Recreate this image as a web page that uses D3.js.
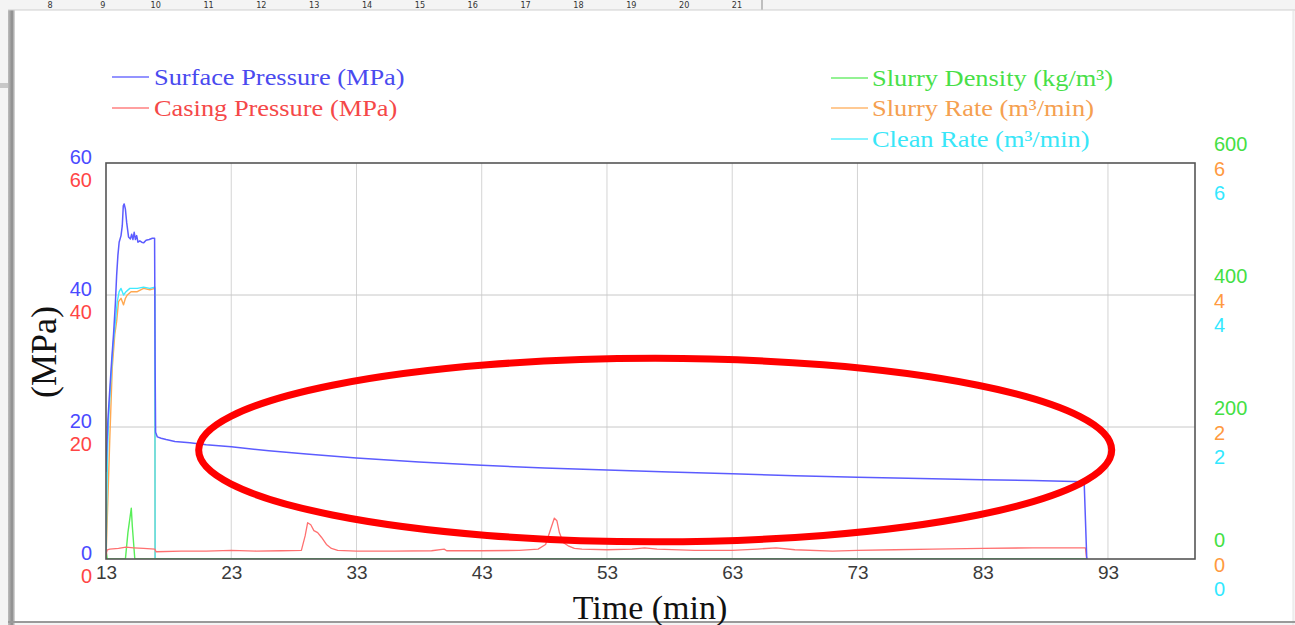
<!DOCTYPE html>
<html>
<head>
<meta charset="utf-8">
<script src="https://cdn.jsdelivr.net/npm/d3@7"></script>
<style>
  body { margin: 0; background: #f4f4f4; overflow: hidden; }
  svg { display: block; }
</style>
</head>
<body>
<div id="chart"></div>
<script>
// time axis (min)
const xTicks = [13, 23, 33, 43, 53, 63, 73, 83, 93];

// surface pressure (MPa)
const surfT = [13.0, 13.05, 13.15, 13.3, 13.45, 13.6, 13.75, 13.85, 13.95, 14.05, 14.2, 14.3, 14.38, 14.45, 14.55, 14.65, 14.8, 14.95, 15.05, 15.15, 15.25, 15.35, 15.45, 15.55, 15.7, 15.85, 16.0, 16.2, 16.45, 16.7, 16.88, 16.92, 16.96, 17.1, 17.4, 17.8, 18.5, 19.7, 21, 23, 26, 29, 33, 38, 43, 48, 53, 58, 63, 68, 73, 78, 83, 87, 91.1, 91.3, 91.32];
const surfP = [13.2, 16, 21, 25.6, 30, 34, 38.8, 43, 46, 48, 49, 50.5, 53.5, 53.8, 53, 51, 48.8, 48.5, 49.2, 48.4, 49.5, 48.4, 49.0, 48.0, 48.2, 48.0, 47.9, 48.3, 48.4, 48.6, 48.6, 30, 19.2, 18.5, 18.3, 18.1, 17.8, 17.6, 17.3, 17.0, 16.4, 15.9, 15.3, 14.7, 14.2, 13.8, 13.5, 13.2, 12.9, 12.6, 12.4, 12.2, 12.0, 11.9, 11.7, 0.5, 0];

// casing pressure (MPa)
const casT = [13.0, 13.05, 13.1, 13.3, 14.0, 14.6, 15.2, 16.0, 16.9, 17.0, 19, 21, 23, 25, 27, 28.6, 28.9, 29.1, 29.35, 29.6, 29.9, 30.2, 30.6, 31.0, 31.5, 33, 36, 39, 40.0, 40.2, 43, 46, 47.5, 48.1, 48.5, 48.8, 49.0, 49.2, 49.5, 49.9, 50.4, 51, 53, 55, 56, 57, 60, 63, 65, 66.5, 68, 71, 73, 76, 79, 83, 87, 91.2, 91.3];
const casP = [0.2, 1.0, 1.4, 1.5, 1.6, 1.8, 1.7, 1.6, 1.5, 1.1, 1.2, 1.2, 1.3, 1.2, 1.25, 1.3, 3.5, 5.5, 5.2, 4.3, 4.0, 3.3, 2.2, 1.6, 1.3, 1.2, 1.2, 1.25, 1.5, 1.25, 1.25, 1.3, 1.5, 2.2, 4.5, 6.2, 5.8, 4.0, 2.5, 2.0, 1.6, 1.5, 1.4, 1.5, 1.7, 1.5, 1.3, 1.3, 1.5, 1.7, 1.4, 1.2, 1.3, 1.4, 1.5, 1.6, 1.7, 1.7, 0];

// slurry density (kg/m3)
const densT = [13.0, 13.05, 13.1, 14.55, 14.75, 15.02, 15.1, 15.3, 15.4, 91.3];
const densV = [0, 8, 0, 0, 40, 77, 50, 0, 0, 0];

// slurry rate (m3/min)
const slurT = [13.0, 13.1, 13.3, 13.5, 13.7, 13.85, 14.0, 14.2, 14.4, 14.55, 14.7, 15.0, 15.5, 16.0, 16.5, 16.9, 16.92, 91.3];
const slurV = [0, 0.6, 1.8, 2.9, 3.4, 3.6, 3.9, 3.95, 3.85, 3.95, 4.0, 4.05, 4.05, 4.1, 4.08, 4.1, 0, 0];

// clean rate (m3/min)
const cleanT = [13.0, 13.06, 13.12, 13.2, 13.35, 13.55, 13.75, 13.9, 14.05, 14.2, 14.4, 14.6, 14.9, 15.5, 16.0, 16.5, 16.9, 16.92, 91.3];
const cleanV = [0, 0.8, 1.6, 2.1, 2.6, 3.2, 3.6, 3.9, 4.05, 4.1, 4.0, 4.05, 4.1, 4.1, 4.12, 4.1, 4.12, 0, 0];

const pTicks = [0, 20, 40, 60];
const densTicks = [0, 200, 400, 600];
const rateTicks = [0, 2, 4, 6];
const rulerNums = [8, 9, 10, 11, 12, 13, 14, 15, 16, 17, 18, 19, 20, 21];

const W = 1295, H = 625;
const pLeft = 106, pRight = 1195, pTop = 163, pBottom = 559;

const svg = d3.select("#chart").append("svg")
  .attr("width", W).attr("height", H);

// window background / ruler
svg.append("rect").attr("width", W).attr("height", H).attr("fill", "#f4f4f4");
const ruler = d3.scaleLinear().domain([8, 21]).range([50, 737]);
svg.append("g").selectAll("text")
  .data(rulerNums).enter().append("text")
  .attr("x", d => ruler(d)).attr("y", 8)
  .attr("text-anchor", "middle")
  .style("font", "9px 'DejaVu Sans Condensed', 'Liberation Sans', sans-serif")
  .style("fill", "#333")
  .text(d => d);
svg.append("line").attr("x1", 762).attr("x2", 762).attr("y1", 0).attr("y2", 10)
  .attr("stroke", "#888");
svg.append("rect").attr("x", 0).attr("y", 83).attr("width", 12).attr("height", 5).attr("fill", "#c8c8c8");

// shadow + panel
const defs = svg.append("defs");
const grad = defs.append("linearGradient").attr("id", "shadow");
grad.append("stop").attr("offset", "0%").attr("stop-color", "#bdbdbd");
grad.append("stop").attr("offset", "60%").attr("stop-color", "#8a8a8a");
grad.append("stop").attr("offset", "100%").attr("stop-color", "#e0e0e0");
svg.append("rect").attr("x", 8).attr("y", 10).attr("width", 7).attr("height", H - 10).attr("fill", "url(#shadow)");
svg.append("rect").attr("x", 15).attr("y", 10).attr("width", W - 17).attr("height", H - 14).attr("fill", "#fff");
svg.append("line").attr("x1", 8).attr("x2", W).attr("y1", 10).attr("y2", 10).attr("stroke", "#cfcfcf");
svg.append("line").attr("x1", W - 2).attr("x2", W - 2).attr("y1", 10).attr("y2", H).attr("stroke", "#e4e4e4");
svg.append("line").attr("x1", 8).attr("x2", W).attr("y1", H - 3).attr("y2", H - 3).attr("stroke", "#9a9a9a").attr("stroke-width", 2);

// scales
const x = d3.scaleLinear().domain([13, 99.95]).range([pLeft, pRight]);
const yP = d3.scaleLinear().domain([0, 60]).range([pBottom, pTop]);
const yD = d3.scaleLinear().domain([0, 600]).range([pBottom, pTop]);
const yR = d3.scaleLinear().domain([0, 6]).range([pBottom, pTop]);

// grid
svg.append("g").selectAll("line")
  .data(xTicks.slice(1)).enter().append("line")
  .attr("x1", d => x(d)).attr("x2", d => x(d))
  .attr("y1", pTop).attr("y2", pBottom)
  .attr("stroke", "#d4d4d4");
svg.append("g").selectAll("line")
  .data([20, 40]).enter().append("line")
  .attr("x1", pLeft).attr("x2", pRight)
  .attr("y1", d => yP(d)).attr("y2", d => yP(d))
  .attr("stroke", "#c8c8c8");

// x axis labels
const xAxis = svg.append("g")
  .attr("transform", "translate(0," + pBottom + ")")
  .call(d3.axisBottom(x).tickValues(xTicks).tickSize(0).tickPadding(7));
xAxis.select(".domain").remove();
xAxis.selectAll("text")
  .style("font", "19px 'Liberation Sans', Arial, sans-serif")
  .style("fill", "#3a3a3a");

// stacked y labels
function yAxis(scale, ticks, side, off, color, pad) {
  const ax = side === "left" ? d3.axisLeft(scale) : d3.axisRight(scale);
  const g = svg.append("g")
    .attr("transform", "translate(" + (side === "left" ? pLeft : pRight) + "," + off + ")")
    .call(ax.tickValues(ticks).tickFormat(d3.format("d")).tickSize(0).tickPadding(pad));
  g.select(".domain").remove();
  g.selectAll("text")
    .style("font", "20px 'Liberation Sans', Arial, sans-serif")
    .style("fill", color);
}
yAxis(yP, pTicks, "left", -6, "#4a4aff", 14);
yAxis(yP, pTicks, "left", 17, "#ff4545", 14);
yAxis(yD, densTicks, "right", -19, "#44e044", 19);
yAxis(yR, rateTicks, "right", 6, "#ff9a40", 19);
yAxis(yR, rateTicks, "right", 30, "#33e8ff", 19);

// series
svg.append("clipPath").attr("id", "clip").append("rect")
  .attr("x", pLeft).attr("y", pTop).attr("width", pRight - pLeft).attr("height", pBottom - pTop);
const plot = svg.append("g").attr("clip-path", "url(#clip)");

function drawLine(ts, vs, scale, color, w) {
  const pts = ts.map((t, i) => [t, vs[i]]);
  plot.append("path")
    .datum(pts)
    .attr("fill", "none")
    .attr("stroke", color)
    .attr("stroke-width", w)
    .attr("stroke-linejoin", "round")
    .attr("d", d3.line().x(d => x(d[0])).y(d => scale(d[1])));
}
drawLine(slurT, slurV, yR, "#ffa850", 1.4);
drawLine(cleanT, cleanV, yR, "#40eaff", 1.4);
drawLine(densT, densV, yD, "#58ee58", 1.4);
drawLine(casT, casP, yP, "#ff7070", 1.3);
drawLine(surfT, surfP, yP, "#5c5cff", 1.5);

// plot frame
svg.append("rect")
  .attr("x", pLeft).attr("y", pTop)
  .attr("width", pRight - pLeft).attr("height", pBottom - pTop)
  .attr("fill", "none").attr("stroke", "#555").attr("stroke-width", 1.6);

// legends
const legL = [
  { name: "Surface Pressure (MPa)", color: "#4a4aef", line: "#7070ff", y: 77 },
  { name: "Casing Pressure (MPa)", color: "#f54848", line: "#ff8080", y: 108 }
];
const legR = [
  { name: "Slurry Density (kg/m³)", color: "#48df48", line: "#70ee70", y: 78 },
  { name: "Slurry Rate (m³/min)", color: "#f5a050", line: "#ffb870", y: 108 },
  { name: "Clean Rate (m³/min)", color: "#38e6f8", line: "#60f0ff", y: 139 }
];
function legend(items, lx, tx) {
  items.forEach(d => {
    svg.append("line")
      .attr("x1", lx).attr("x2", lx + 37)
      .attr("y1", d.y).attr("y2", d.y)
      .attr("stroke", d.line).attr("stroke-width", 1.3);
    svg.append("text")
      .attr("transform", "translate(" + tx + "," + (d.y + 8) + ") scale(1.1,1)")
      .style("font", "24px 'Liberation Serif', 'Times New Roman', serif")
      .style("fill", d.color)
      .text(d.name);
  });
}
legend(legL, 112, 154);
legend(legR, 831, 872);

// axis titles
svg.append("text")
  .attr("x", 650).attr("y", 619)
  .attr("text-anchor", "middle")
  .style("font", "34px 'Liberation Serif', 'Times New Roman', serif")
  .style("fill", "#111")
  .text("Time (min)");
svg.append("text")
  .attr("transform", "translate(56,352) rotate(-90)")
  .attr("text-anchor", "middle")
  .style("font", "36px 'Liberation Serif', 'Times New Roman', serif")
  .style("fill", "#111")
  .text("(MPa)");

// red annotation ellipse
svg.append("ellipse")
  .attr("cx", x(56.85)).attr("cy", yP(16.5))
  .attr("rx", x(56.85 + 36.45) - x(56.85))
  .attr("ry", yP(0) - yP(13.9))
  .attr("fill", "none")
  .attr("stroke", "#ff0000")
  .attr("stroke-width", 7);
</script>
</body>
</html>
